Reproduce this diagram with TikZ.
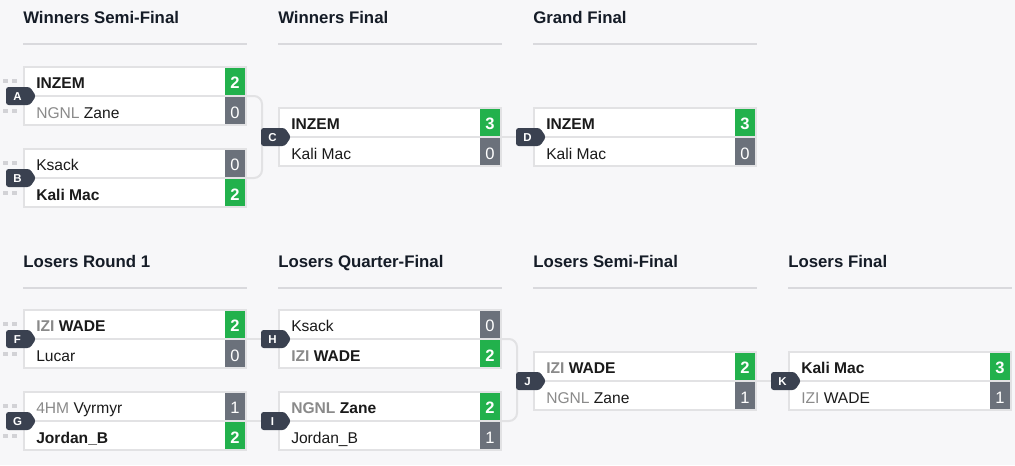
\documentclass[tikz,border=0pt]{standalone}
\usepackage{fontspec}
\setmainfont{Liberation Sans}
\usetikzlibrary{calc}
\definecolor{bg}{HTML}{F7F7F9}
\definecolor{bordercol}{HTML}{E2E2E4}
\definecolor{linecol}{HTML}{D9D9DD}
\definecolor{stubcol}{HTML}{D2D2D6}
\definecolor{wincol}{HTML}{22B14C}
\definecolor{losecol}{HTML}{6B717B}
\definecolor{badgecol}{HTML}{3A4150}
\definecolor{hdrcol}{HTML}{151C27}
\definecolor{nametext}{HTML}{1A1A1A}
\definecolor{pre}{HTML}{8A8A8A}
\tikzset{
 mbox/.style={draw=bordercol, line width=1.5pt, fill=white, minimum width=166.5pt, minimum height=43.5pt, inner sep=0pt, outer sep=0pt, anchor=north west},
 nm/.style={anchor=base west, inner sep=0pt, font=\fontsize{11.7}{13}\selectfont, text=nametext},
 sc/.style={anchor=base, inner sep=0pt, font=\fontsize{12.4}{14}\selectfont, text=white},
 badgetxt/.style={anchor=base, inner sep=0pt, font=\bfseries\fontsize{8.6}{10}\selectfont, text=white},
 hdr/.style={anchor=base west, inner sep=0pt, font=\bfseries\fontsize{12.6}{15}\selectfont, text=hdrcol},
 hline/.style={draw=linecol, line width=0.9pt},
 conn/.style={draw=bordercol, line width=1.5pt},
 stub/.style={draw=stubcol, line width=2.3pt, dash pattern=on 3.75pt off 3pt},
 badgefill/.style={fill=badgecol, rounded corners=2pt},
}
% #1 name, #2 x, #3 y, #4 top text, #5 top score, #6 bottom text, #7 bottom score, #8 winner (1 top, 2 bottom)
\newcommand\mtch[8]{%
 \ifnum#8=1 \def\tcol{wincol}\def\bcol{losecol}\def\tfn{\bfseries}\def\bfn{}%
 \else \def\tcol{losecol}\def\bcol{wincol}\def\tfn{}\def\bfn{\bfseries}\fi
 \node[mbox] (#1) at ({#2+1},{#3+1}) {};
 \draw[conn] (#1.west) -- (#1.east);
 \fill[fill=\tcol] ([shift={(-21,1)}]#1.north east) rectangle ([shift={(-1,-1)}]#1.east);
 \fill[fill=\bcol] ([shift={(-21,1)}]#1.east) rectangle ([shift={(-1,-1)}]#1.south east);
 \node[sc] (#1s1) at ([shift={(-11,-8)}]#1.east) {\tfn #5};
 \node[sc] (#1s2) at ([shift={(-11,22)}]#1.east) {\bfn #7};
 \node[nm] (#1n1) at ([shift={(12,-8)}]#1.west) {#4};
 \node[nm] (#1n2) at ([shift={(12,22)}]#1.west) {#6};
}
\newcommand\badge[2]{%
 \fill[badgefill] ([shift={(-18,-9)}]#1.west) -- ([shift={(6,-9)}]#1.west) -- ([shift={(12,0)}]#1.west) -- ([shift={(6,9)}]#1.west) -- ([shift={(-18,9)}]#1.west) -- cycle;
 \node[badgetxt] (#1b) at ([shift={(-6.5,4.3)}]#1.west) {#2};
}
\newcommand\stubs[1]{%
 \draw[stub] ([shift={(-21,-15)}]#1.west) -- ([shift={(-6,-15)}]#1.west);
 \draw[stub] ([shift={(-21,15)}]#1.west) -- ([shift={(-6,15)}]#1.west);
}
\newcommand\hd[4]{%
 \node[hdr] (#1) at (#2,#3) {#4};
 \draw[hline] (#2,{#3+21}) -- ({#2+224},{#3+21});
}
\begin{document}
\begin{tikzpicture}[x=0.75pt,y=-0.75pt]
\fill[bg] (0,0) rectangle (1015,465);
\useasboundingbox (0,0) rectangle (1015,465);
% headers
\hd{h1}{23}{23}{Winners Semi-Final}
\hd{h2}{278}{23}{Winners Final}
\hd{h3}{533}{23}{Grand Final}
\hd{h4}{23}{267}{Losers Round 1}
\hd{h5}{278}{267}{Losers Quarter-Final}
\hd{h6}{533}{267}{Losers Semi-Final}
\hd{h7}{788}{267}{Losers Final}
% matches
\mtch{A}{23}{66}{\textbf{INZEM}}{2}{{\color{pre}NGNL} Zane}{0}{1}
\mtch{B}{23}{148}{Ksack}{0}{\textbf{Kali Mac}}{2}{2}
\mtch{C}{278}{107}{\textbf{INZEM}}{3}{Kali Mac}{0}{1}
\mtch{D}{533}{107}{\textbf{INZEM}}{3}{Kali Mac}{0}{1}
\mtch{F}{23}{309}{\textbf{{\color{pre}IZI} WADE}}{2}{Lucar}{0}{1}
\mtch{G}{23}{391}{{\color{pre}4HM} Vyrmyr}{1}{\textbf{Jordan\_B}}{2}{2}
\mtch{H}{278}{309}{Ksack}{0}{\textbf{{\color{pre}IZI} WADE}}{2}{2}
\mtch{I}{278}{391}{\textbf{{\color{pre}NGNL} Zane}}{2}{Jordan\_B}{1}{1}
\mtch{J}{533}{351}{\textbf{{\color{pre}IZI} WADE}}{2}{{\color{pre}NGNL} Zane}{1}{1}
\mtch{K}{788}{351}{\textbf{Kali Mac}}{3}{{\color{pre}IZI} WADE}{1}{1}
% connectors
\draw[conn, rounded corners=6pt] (A.east) -- ++(16,0) |- (B.east);
\draw[conn] (C.east) -- (D.west);
\draw[conn] (F.east) -- (H.west);
\draw[conn] (G.east) -- (I.west);
\draw[conn, rounded corners=6pt] (H.east) -- ++(16,0) |- (I.east);
\draw[conn] (J.east) -- (K.west);
% stubs
\stubs{A}\stubs{B}\stubs{F}\stubs{G}
% badges
\badge{A}{A}\badge{B}{B}\badge{C}{C}\badge{D}{D}
\badge{F}{F}\badge{G}{G}\badge{H}{H}\badge{I}{I}\badge{J}{J}\badge{K}{K}
\end{tikzpicture}
\end{document}
